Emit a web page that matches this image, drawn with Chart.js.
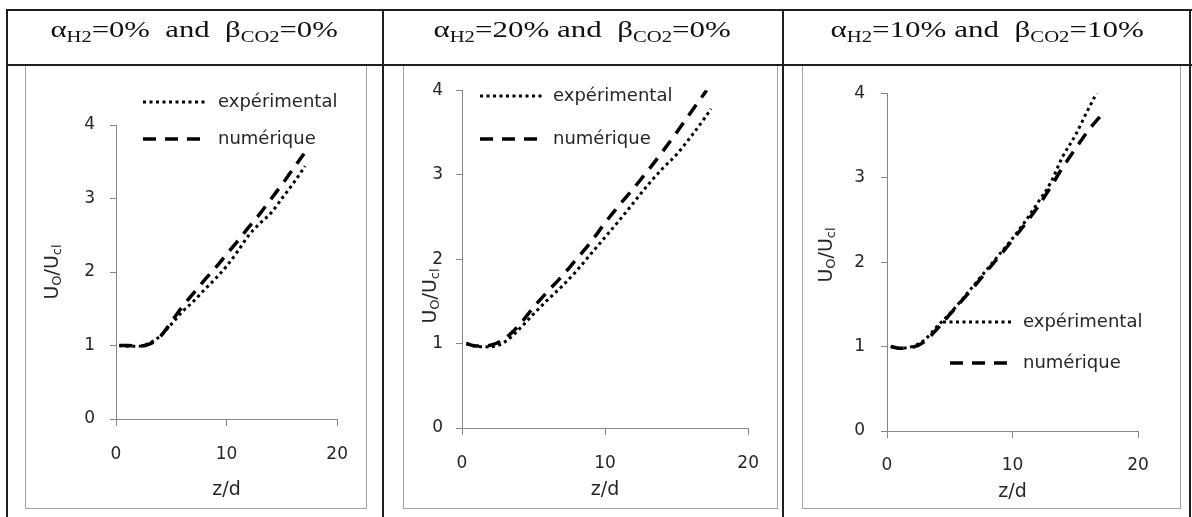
<!DOCTYPE html>
<html>
<head>
<meta charset="utf-8">
<script src="https://cdn.jsdelivr.net/npm/chart.js@4.4.1/dist/chart.umd.min.js"></script>
<style>
  html, body { margin: 0; padding: 0; background: #fff; }
  body { width: 1192px; height: 517px; position: relative; overflow: hidden; }
  .ln { position: absolute; background: #1e1e1e; }
  .hd { position: absolute; top: 16px; font-family: "Liberation Serif", "Times New Roman", serif;
        font-size: 24px; line-height: 26px; color: #111; white-space: pre; transform-origin: 50% 50%; }
  .hd .s { font-size: 16px; position: relative; top: 5px; }
  .box { position: absolute; top: 64px; height: 445px; border: 1.5px solid #a3a3a3; box-sizing: border-box; pointer-events: none; }
  canvas { position: absolute; }
</style>
</head>
<body>
<canvas id="c1" width="340" height="441" style="left:26px;top:67px"></canvas>
<canvas id="c2" width="373" height="441" style="left:404px;top:67px"></canvas>
<canvas id="c3" width="377" height="441" style="left:803px;top:67px"></canvas>
<div class="box" style="left:25px;width:342px"></div>
<div class="box" style="left:403px;width:375px"></div>
<div class="box" style="left:802px;width:379px"></div>

<div class="ln" style="left:6px;top:9px;width:1186px;height:2px"></div>
<div class="ln" style="left:6px;top:64px;width:1186px;height:2px"></div>
<div class="ln" style="left:6px;top:9px;width:2px;height:508px"></div>
<div class="ln" style="left:382px;top:9px;width:2px;height:508px"></div>
<div class="ln" style="left:782px;top:9px;width:2px;height:508px"></div>
<div class="ln" style="left:1189px;top:9px;width:2px;height:508px"></div>

<script>
// ---- data ----
const xTicks = [0, 10, 20];
const yTicks = [0, 1, 2, 3, 4];
const seriesNames = ["expérimental", "numérique"];
const alphaH2 = ["0%", "20%", "10%"];
const betaCO2 = ["0%", "0%", "10%"];
const andText = ["  and  ", " and  ", " and  "];

// panel 1 : aH2 = 0%, bCO2 = 0%
const p1ExpZ = [0.3, 1, 2, 3, 4, 5, 6, 7, 8, 9, 10, 11, 12, 13, 14, 15, 16, 17.1];
const p1ExpU = [1.0, 0.99, 0.99, 1.03, 1.13, 1.29, 1.46, 1.6, 1.76, 1.91, 2.08, 2.28, 2.5, 2.66, 2.8, 3.0, 3.2, 3.44];
const p1NumZ = [0.3, 1, 2, 3, 4, 5, 6, 7, 8, 9, 10, 11, 12, 13, 14, 15, 16, 17];
const p1NumU = [1.0, 1.0, 0.99, 1.02, 1.12, 1.32, 1.53, 1.71, 1.89, 2.06, 2.24, 2.42, 2.61, 2.79, 2.99, 3.19, 3.4, 3.61];

// panel 2 : aH2 = 20%, bCO2 = 0%
const p2ExpZ = [0.3, 1, 2, 3, 4, 5, 6, 7, 8, 9, 10, 11, 12, 13, 14, 15, 16, 17, 17.4];
const p2ExpU = [1.0, 0.97, 0.96, 1.02, 1.17, 1.35, 1.52, 1.68, 1.86, 2.06, 2.26, 2.46, 2.67, 2.88, 3.07, 3.24, 3.45, 3.68, 3.78];
const p2NumZ = [0.3, 1, 2, 3, 4, 5, 6, 7, 8, 9, 10, 11, 12, 13, 14, 15, 16, 17.1];
const p2NumU = [1.0, 0.97, 0.98, 1.06, 1.22, 1.43, 1.62, 1.8, 2.0, 2.2, 2.43, 2.64, 2.84, 3.05, 3.27, 3.5, 3.74, 4.0];

// panel 3 : aH2 = 10%, bCO2 = 10%
const p3ExpZ = [0.3, 1, 2, 3, 4, 5, 6, 7, 8, 9, 10, 11, 12, 13, 14, 15, 16, 16.7];
const p3ExpU = [1.0, 0.98, 1.0, 1.08, 1.24, 1.39, 1.56, 1.74, 1.92, 2.1, 2.28, 2.48, 2.7, 2.93, 3.25, 3.5, 3.8, 4.0];
const p3NumZ = [0.3, 1, 2, 3, 4, 5, 6, 7, 8, 9, 10, 11, 12, 13, 14, 15, 16, 17.3];
const p3NumU = [1.0, 0.98, 0.99, 1.06, 1.21, 1.38, 1.55, 1.72, 1.9, 2.08, 2.26, 2.45, 2.65, 2.88, 3.12, 3.34, 3.55, 3.78];

// ---- layout (canvas-relative pixels) ----
const panels = [
  { id: "c1", exp: [p1ExpZ, p1ExpU], num: [p1NumZ, p1NumU],
    pad: { top: 58, right: 27, left: 0, bottom: 0 }, yW: 90, xH: 89, yPad: 15, xPad: 18, titlePad: 7,
    yTitle: { x: 27, y: 205 },
    legend: [{ x0: 117, x1: 182, y: 35, tx: 192 }, { x0: 117, x1: 182, y: 72, tx: 192 }],
    head: [50, 337] },
  { id: "c2", exp: [p2ExpZ, p2ExpU], num: [p2NumZ, p2NumU],
    pad: { top: 14, right: 27, left: 0, bottom: 0 }, yW: 58, xH: 80, yPad: 13, xPad: 18, titlePad: 7,
    yTitle: { x: 27, y: 229 },
    legend: [{ x0: 76, x1: 141, y: 29, tx: 149 }, { x0: 76, x1: 141, y: 72, tx: 149 }],
    head: [433, 730] },
  { id: "c3", exp: [p3ExpZ, p3ExpU], num: [p3NumZ, p3NumU],
    pad: { top: 14, right: 42, left: 0, bottom: 0 }, yW: 84, xH: 77, yPad: 16, xPad: 17, titlePad: 5,
    yTitle: { x: 24, y: 188 },
    legend: [{ x0: 140, x1: 210, y: 255, tx: 220 }, { x0: 147, x1: 212, y: 296, tx: 220 }],
    head: [830, 1143] }
];

const FONT = "'DejaVu Sans', sans-serif";
const TXT = "#262626";
const AXIS = "#868686";

// header cells
panels.forEach((p, i) => {
  const el = document.createElement("div");
  el.className = "hd";
  el.innerHTML = "α<span class='s'>H2</span>=" + alphaH2[i] + andText[i] +
                 "β<span class='s'>CO2</span>=" + betaCO2[i];
  document.body.appendChild(el);
  const w = el.offsetWidth;
  const [a, b] = p.head;
  el.style.left = ((a + b) / 2 - w / 2) + "px";
  el.style.transform = "scaleX(" + ((b - a) / w) + ")";
});

// rotated y title with subscripts
const yTitlePlugin = {
  id: "yTitleSub",
  afterDraw(chart, args, opts) {
    const ctx = chart.ctx;
    const parts = [["U", 19, 0], ["O", 13, 5], ["/U", 19, 0], ["cl", 13, 5]];
    ctx.save();
    ctx.translate(opts.x, opts.y);
    ctx.rotate(-Math.PI / 2);
    ctx.fillStyle = TXT;
    ctx.textBaseline = "middle";
    let total = 0;
    parts.forEach(([t, s]) => { ctx.font = s + "px " + FONT; total += ctx.measureText(t).width; });
    let x = -total / 2;
    parts.forEach(([t, s, dy]) => {
      ctx.font = s + "px " + FONT;
      ctx.fillText(t, x, dy);
      x += ctx.measureText(t).width;
    });
    ctx.restore();
  }
};

// legend drawn inside the plot, Excel style
const legendPlugin = {
  id: "sideLegend",
  afterDraw(chart, args, opts) {
    const ctx = chart.ctx;
    chart.data.datasets.forEach((ds, i) => {
      const it = opts.items[i];
      ctx.save();
      ctx.strokeStyle = ds.borderColor;
      ctx.lineWidth = ds.borderWidth;
      ctx.setLineDash(ds.borderDash);
      ctx.beginPath();
      ctx.moveTo(it.x0, it.y);
      ctx.lineTo(it.x1, it.y);
      ctx.stroke();
      ctx.setLineDash([]);
      ctx.fillStyle = TXT;
      ctx.font = "18px " + FONT;
      ctx.textBaseline = "middle";
      ctx.fillText(ds.label, it.tx, it.y);
      ctx.restore();
    });
  }
};

const toPoints = (zs, us) => zs.map((z, k) => ({ x: z, y: us[k] }));

panels.forEach(p => {
  new Chart(document.getElementById(p.id), {
    type: "line",
    data: {
      datasets: [
        { label: seriesNames[0], data: toPoints(p.exp[0], p.exp[1]),
          borderColor: "#000", borderWidth: 3, borderDash: [3, 3.5], pointRadius: 0,
          cubicInterpolationMode: "monotone" },
        { label: seriesNames[1], data: toPoints(p.num[0], p.num[1]),
          borderColor: "#000", borderWidth: 3.5, borderDash: [13, 9], pointRadius: 0,
          cubicInterpolationMode: "monotone" }
      ]
    },
    options: {
      responsive: false,
      devicePixelRatio: 1,
      animation: false,
      layout: { padding: p.pad },
      plugins: {
        legend: { display: false },
        tooltip: { enabled: false },
        yTitleSub: p.yTitle,
        sideLegend: { items: p.legend }
      },
      scales: {
        x: {
          type: "linear", min: 0, max: 20,
          afterBuildTicks: s => { s.ticks = xTicks.map(v => ({ value: v })); },
          afterFit: s => { s.height = p.xH; },
          grid: { drawOnChartArea: false, drawTicks: true, tickLength: 7, color: AXIS, tickColor: AXIS },
          border: { color: AXIS, width: 1 },
          ticks: { padding: p.xPad, color: TXT, font: { family: FONT, size: 17 }, maxRotation: 0 },
          title: { display: true, text: "z/d", color: TXT, font: { family: FONT, size: 19 },
                   padding: { top: 0, bottom: p.titlePad } }
        },
        y: {
          type: "linear", min: 0, max: 4,
          afterBuildTicks: s => { s.ticks = yTicks.map(v => ({ value: v })); },
          afterFit: s => { s.width = p.yW; },
          grid: { drawOnChartArea: false, drawTicks: true, tickLength: 6, color: AXIS, tickColor: AXIS },
          border: { color: AXIS, width: 1 },
          ticks: { padding: p.yPad, color: TXT, font: { family: FONT, size: 17 } }
        }
      }
    },
    plugins: [yTitlePlugin, legendPlugin]
  });
});
</script>
</body>
</html>
